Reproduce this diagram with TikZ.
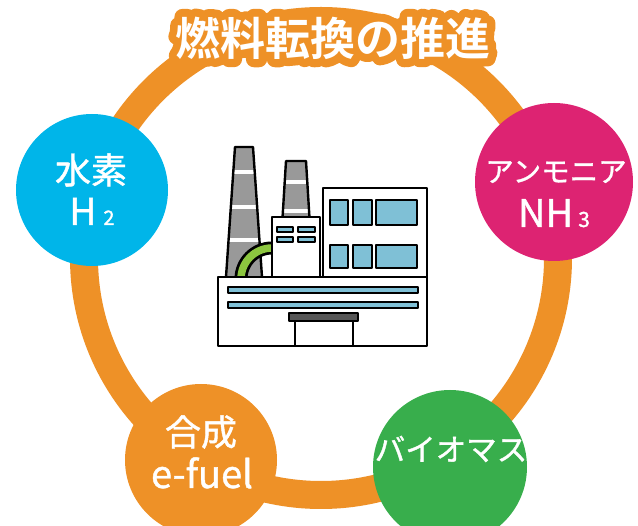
\documentclass[tikz,border=0pt]{standalone}
\usepackage{fontspec}
\usetikzlibrary{calc}
\newfontfamily\jp[FakeBold=1.2]{Noto Sans CJK JP}
\newfontfamily\jpbold{Noto Sans CJK JP Bold}
\newfontfamily\jphalo[FakeBold=36]{Noto Sans CJK JP Bold}
\definecolor{ringorange}{HTML}{EE9127}
\definecolor{h2blue}{HTML}{00B5E9}
\definecolor{nhpink}{HTML}{DD2372}
\definecolor{biogreen}{HTML}{38AE4C}
\definecolor{winblue}{HTML}{7FC0D6}
\definecolor{pipegreen}{HTML}{8CC63F}
\definecolor{stackgray}{HTML}{999999}
\definecolor{canopy}{HTML}{555555}
\newcommand{\fs}[1]{\fontsize{#1}{#1}\selectfont}
\tikzset{
  bubble/.style={circle,inner sep=0pt,minimum size=#1},
  label/.style={text=white,inner sep=0pt,font=\jp},
  outline/.style={draw=black,line width=2.4pt,line join=round},
  window/.style={outline,fill=winblue},
  wall/.style={outline,fill=white}
}
\begin{document}
\begin{tikzpicture}[x=1pt,y=-1pt]
\useasboundingbox (0,0) rectangle (638,526);
\clip (0,0) rectangle (638,526);

% ring linking the four fuels
\draw[ringorange,line width=28pt] (321,258) circle[radius=237];

% fuel bubbles
\node[bubble=152pt,fill=h2blue] (h2) at (92,190) {};
\node[bubble=158pt,fill=nhpink] (nh3) at (554,182) {};
\node[bubble=152pt,fill=ringorange] (efuel) at (201,460) {};
\node[bubble=154pt,fill=biogreen] (bio) at (450,467) {};

\node[label,font=\jp\fs{36}] (h2a) at (91,170) {水素};
\node[label,anchor=base] (h2b) at (92,225) {\fs{37}H\hspace{7pt}\fs{20}2};
\node[label,font=\jp\fs{28.5}] (nh3a) at (556,172) {アンモニア};
\node[label,anchor=base] (nh3b) at (554,227) {\fs{38}NH\hspace{5pt}\fs{21}3};
\node[label,font=\jp\fs{36}] (efa) at (201,432) {合成};
\node[label,anchor=base,font=\jp\fs{38}] (efb) at (202,488) {e-fuel};
\node[label,font=\jp\fs{30.5}] (bioa) at (451,449) {バイオマス};

% title with a soft orange halo (stroked glyphs, rounded joins)
\fill[ringorange,rounded corners=10pt] (182,22) rectangle (484,58);
\node[inner sep=0pt,font=\jphalo\fs{45},text=ringorange] (halo) at (333,38)
  {\special{pdf:literal direct 1 j 1 J}燃料転換の推進};
\node[inner sep=0pt,font=\jpbold\fs{45},text=white] (title) at (333,38) {燃料転換の推進};

% factory: chimneys
\begin{scope}
  \clip (226,277) -- (235,147) -- (253,147) -- (262,277) -- cycle;
  \fill[stackgray] (220,140) rectangle (270,280);
  \foreach \yy in {172,207,240} \fill[white] (220,\yy-1.8) rectangle (270,\yy+1.8);
\end{scope}
\draw[outline] (226,277) -- (235,147) -- (253,147) -- (262,277);
\begin{scope}
  \clip (282.5,218) -- (286,161) -- (306,161) -- (309.5,218) -- cycle;
  \fill[stackgray] (280,155) rectangle (312,220);
  \foreach \yy in {182,211} \fill[white] (280,\yy-1.8) rectangle (312,\yy+1.8);
\end{scope}
\draw[outline] (282.5,218) -- (286,161) -- (306,161) -- (309.5,218);

% green pipe from the plant to the chimney
\draw[black,line width=13pt] (241,279) arc[start angle=180,end angle=270,radius=31];
\draw[pipegreen,line width=7.5pt] (241,279) arc[start angle=180,end angle=270,radius=31];

% buildings
\draw[wall] (272,217) rectangle (320,277);
\draw[wall] (323,188) rectangle (427,277);
\draw[wall] (218,277) rectangle (427,346);

% windows
\foreach \xa/\xb in {277/293,298/315}
  \foreach \ya/\yb in {227/232,237/242}
    \draw[window,line width=1.6pt] (\xa,\ya) rectangle (\xb,\yb);
\foreach \xa/\xb in {330/348,353/372,376/417}
  \foreach \ya/\yb in {200/225,245/268}
    \draw[window] (\xa,\ya) rectangle (\xb,\yb);
\draw[window] (228,287) rectangle (418,293);
\draw[window] (228,302) rectangle (418,308);

% entrance
\draw[outline,fill=canopy] (289,313) rectangle (358,321);
\draw[wall] (295,321) rectangle (353,346);
\end{tikzpicture}
\end{document}
